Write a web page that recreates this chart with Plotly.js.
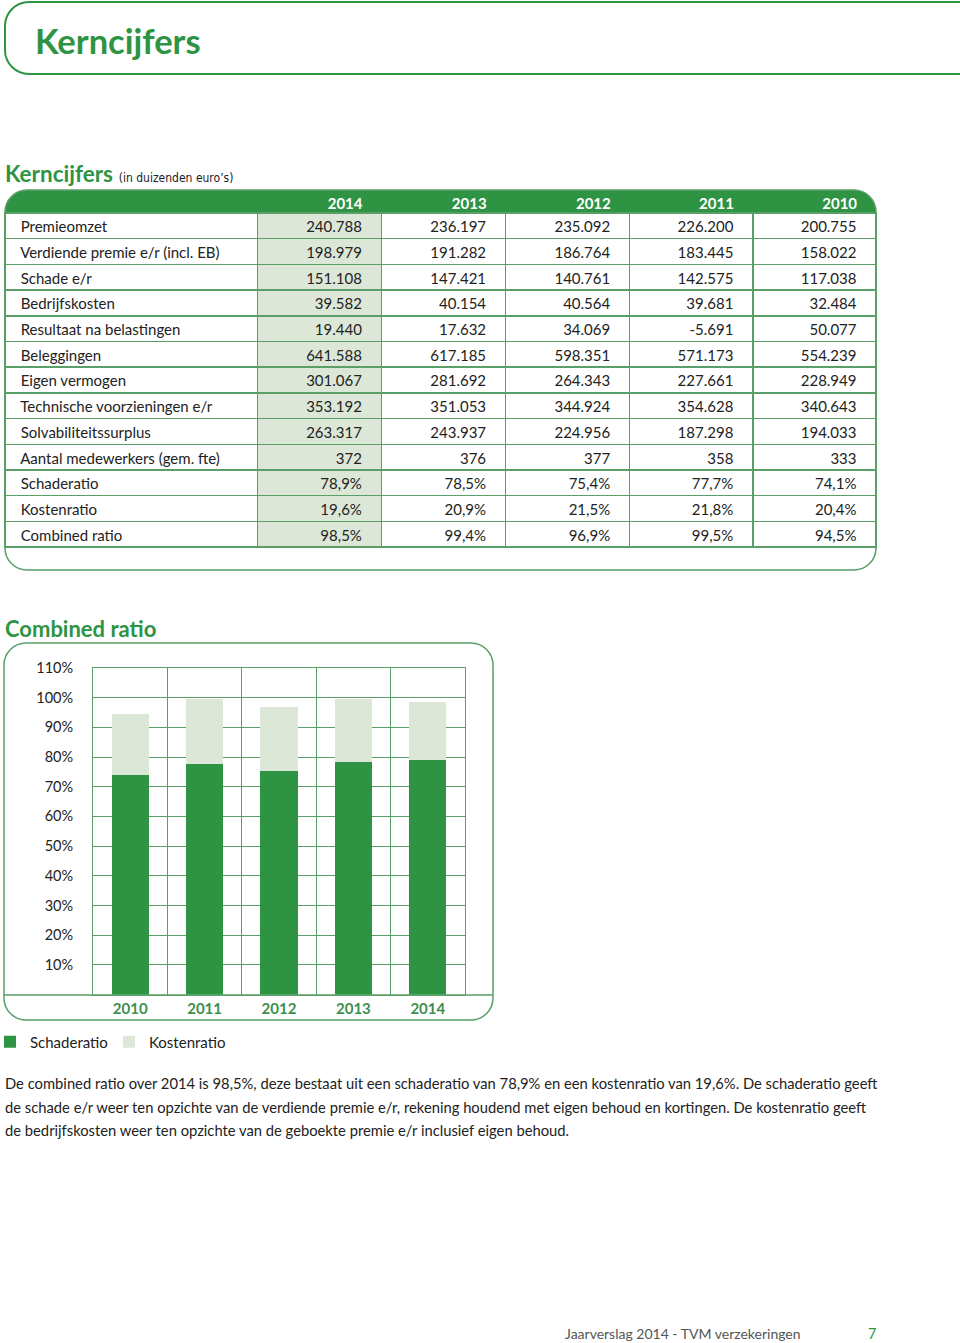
<!DOCTYPE html>
<html>
<head>
<meta charset="utf-8">
<script src="https://cdn.plot.ly/plotly-3.0.1.min.js"></script>
<style>html,body{margin:0;padding:0;background:#fff}#chart{width:960px;height:1343px}</style>
</head>
<body>
<div id="chart"></div>
<script>
// ---------- DATA ----------
var tableYears = ['2014', '2013', '2012', '2011', '2010'];
var rowLabels = ['Premieomzet', 'Verdiende premie e/r (incl. EB)', 'Schade e/r', 'Bedrijfskosten',
  'Resultaat na belastingen', 'Beleggingen', 'Eigen vermogen', 'Technische voorzieningen e/r',
  'Solvabiliteitssurplus', 'Aantal medewerkers (gem. fte)', 'Schaderatio', 'Kostenratio', 'Combined ratio'];
var col2014 = ['240.788', '198.979', '151.108', '39.582', '19.440', '641.588', '301.067', '353.192', '263.317', '372', '78,9%', '19,6%', '98,5%'];
var col2013 = ['236.197', '191.282', '147.421', '40.154', '17.632', '617.185', '281.692', '351.053', '243.937', '376', '78,5%', '20,9%', '99,4%'];
var col2012 = ['235.092', '186.764', '140.761', '40.564', '34.069', '598.351', '264.343', '344.924', '224.956', '377', '75,4%', '21,5%', '96,9%'];
var col2011 = ['226.200', '183.445', '142.575', '39.681', '-5.691', '571.173', '227.661', '354.628', '187.298', '358', '77,7%', '21,8%', '99,5%'];
var col2010 = ['200.755', '158.022', '117.038', '32.484', '50.077', '554.239', '228.949', '340.643', '194.033', '333', '74,1%', '20,4%', '94,5%'];

var chartYears = ['2010', '2011', '2012', '2013', '2014'];
var schaderatio = [74.1, 77.7, 75.4, 78.5, 78.9];
var kostenratio = [20.4, 21.8, 21.5, 20.9, 19.6];
var yTickVals = [10, 20, 30, 40, 50, 60, 70, 80, 90, 100, 110];
var yTickText = ['10%', '20%', '30%', '40%', '50%', '60%', '70%', '80%', '90%', '100%', '110%'];

var paragraphLines = [
  'De combined ratio over 2014 is 98,5%, deze bestaat uit een schaderatio van 78,9% en een kostenratio van 19,6%. De schaderatio geeft',
  'de schade e/r weer ten opzichte van de verdiende premie e/r, rekening houdend met eigen behoud en kortingen. De kostenratio geeft',
  'de bedrijfskosten weer ten opzichte van de geboekte premie e/r inclusief eigen behoud.'
];

// ---------- STYLE ----------
var W = 960, H = 1343;
var GREEN = '#2e9444', LIGHT = '#dce7d8', LINE = '#5a9e68', TXT = '#222222';
var FONT = 'Lato, "Open Sans", sans-serif';
function px(x) { return x / W; }
function py(y) { return 1 - y / H; }
function P(x, y) { return px(x).toFixed(5) + ',' + py(y).toFixed(5); }
var K = 0.5523;
function roundRect(x0, y0, x1, y1, r) {
  var k = K * r;
  return 'M' + P(x0 + r, y0) + ' L' + P(x1 - r, y0) +
    ' C' + P(x1 - r + k, y0) + ' ' + P(x1, y0 + r - k) + ' ' + P(x1, y0 + r) +
    ' L' + P(x1, y1 - r) +
    ' C' + P(x1, y1 - r + k) + ' ' + P(x1 - r + k, y1) + ' ' + P(x1 - r, y1) +
    ' L' + P(x0 + r, y1) +
    ' C' + P(x0 + r - k, y1) + ' ' + P(x0, y1 - r + k) + ' ' + P(x0, y1 - r) +
    ' L' + P(x0, y0 + r) +
    ' C' + P(x0, y0 + r - k) + ' ' + P(x0 + r - k, y0) + ' ' + P(x0 + r, y0) + ' Z';
}
function roundTop(x0, y0, x1, y1, r) {
  var k = K * r;
  return 'M' + P(x0, y1) + ' L' + P(x0, y0 + r) +
    ' C' + P(x0, y0 + r - k) + ' ' + P(x0 + r - k, y0) + ' ' + P(x0 + r, y0) +
    ' L' + P(x1 - r, y0) +
    ' C' + P(x1 - r + k, y0) + ' ' + P(x1, y0 + r - k) + ' ' + P(x1, y0 + r) +
    ' L' + P(x1, y1) + ' Z';
}
function headerBox(x0, y0, y1, r) {
  var k = K * r;
  return 'M' + P(975, y0) + ' L' + P(x0 + r, y0) +
    ' C' + P(x0 + r - k, y0) + ' ' + P(x0, y0 + r - k) + ' ' + P(x0, y0 + r) +
    ' L' + P(x0, y1 - r) +
    ' C' + P(x0, y1 - r + k) + ' ' + P(x0 + r - k, y1) + ' ' + P(x0 + r, y1) +
    ' L' + P(975, y1);
}

// ---------- TABLE ----------
var padL = '\u00a0\u00a0';
var padR = '\u00a0\u00a0\u00a0';
function padRight(arr) { return arr.map(function (v) { return v + padR; }); }
var tableTrace = {
  type: 'table',
  domain: { x: [px(5), px(876)], y: [py(560), py(190)] },
  columnwidth: [252, 124, 124, 124, 123, 123],
  header: {
    values: [padL].concat(tableYears.map(function (y) { return y + padR; })),
    align: ['left', 'right', 'right', 'right', 'right', 'right'],
    fill: { color: 'rgba(0,0,0,0)' },
    line: { color: 'rgba(0,0,0,0)', width: 1 },
    font: { family: FONT, size: 15, color: '#ffffff', weight: 'bold' },
    height: 23
  },
  cells: {
    values: [rowLabels.map(function (s) { return padL + s; }), padRight(col2014), padRight(col2013),
      padRight(col2012), padRight(col2011), padRight(col2010)],
    align: ['left', 'right', 'right', 'right', 'right', 'right'],
    fill: { color: ['#ffffff', LIGHT, '#ffffff', '#ffffff', '#ffffff', '#ffffff'] },
    line: { color: LINE, width: 1.5 },
    font: { family: FONT, size: 15, color: TXT },
    height: 25.7
  }
};

// ---------- BAR CHART ----------
var barSchade = {
  type: 'bar', name: 'Schaderatio', x: chartYears, y: schaderatio,
  marker: { color: GREEN }, width: 0.5, hoverinfo: 'skip'
};
var barKosten = {
  type: 'bar', name: 'Kostenratio', x: chartYears, y: kostenratio,
  marker: { color: LIGHT }, width: 0.5, hoverinfo: 'skip'
};

var annotations = [
  { text: '<b>Kerncijfers</b>', x: px(34), y: py(40), xanchor: 'left', yanchor: 'middle',
    font: { family: FONT, size: 34.5, color: GREEN } },
  { text: '<b>Kerncijfers</b> <span style="font-size:12px;color:#222;font-family:\'DejaVu Sans Condensed\',\'DejaVu Sans\',sans-serif">(in duizenden euro’s)</span>',
    x: px(4), y: py(174), xanchor: 'left', yanchor: 'middle',
    font: { family: FONT, size: 22.5, color: GREEN } },
  { text: '<b>Combined ratio</b>', x: px(4), y: py(628), xanchor: 'left', yanchor: 'middle',
    font: { family: FONT, size: 22, color: GREEN } },
  { text: 'Jaarverslag 2014 - TVM verzekeringen', x: px(564), y: py(1333), xanchor: 'left', yanchor: 'middle',
    font: { family: FONT, size: 14, color: '#555555' } },
  { text: '7', x: px(872), y: py(1333), xanchor: 'center', yanchor: 'middle',
    font: { family: FONT, size: 14.5, color: GREEN } }
];
paragraphLines.forEach(function (line, i) {
  annotations.push({ text: line, x: px(4), y: py(1083 + i * 23.5), xanchor: 'left', yanchor: 'middle',
    font: { family: FONT, size: 14.75, color: TXT } });
});
annotations.forEach(function (a) { a.xref = 'paper'; a.yref = 'paper'; a.showarrow = false; a.borderpad = 0; });

var shapes = [
  { type: 'path', path: headerBox(5, 2, 74, 24), line: { color: GREEN, width: 2 }, fillcolor: 'rgba(0,0,0,0)', layer: 'below' },
  { type: 'path', path: roundTop(5, 190, 876, 213, 22), line: { width: 0 }, fillcolor: GREEN, layer: 'below' },
  { type: 'path', path: roundRect(5, 190, 876, 570, 22), line: { color: LINE, width: 1.5 }, fillcolor: 'rgba(0,0,0,0)', layer: 'below' },
  { type: 'path', path: roundRect(4, 643, 493, 1020, 22), line: { color: LINE, width: 1.5 }, fillcolor: 'rgba(0,0,0,0)', layer: 'below' },
  { type: 'line', x0: px(4), x1: px(493), y0: py(995), y1: py(995), line: { color: LINE, width: 1.5 }, layer: 'below' }
];
shapes.forEach(function (s) { s.xref = 'paper'; s.yref = 'paper'; });

var layout = {
  width: W, height: H,
  margin: { l: 0, r: 0, t: 0, b: 0, pad: 0, autoexpand: false },
  paper_bgcolor: '#ffffff', plot_bgcolor: 'rgba(0,0,0,0)',
  font: { family: FONT, color: TXT },
  barmode: 'stack',
  showlegend: true,
  legend: {
    orientation: 'h', x: px(-10), y: py(1042), xanchor: 'left', yanchor: 'middle',
    font: { family: FONT, size: 15, color: TXT }, traceorder: 'normal',
    entrywidth: 74, entrywidthmode: 'pixels', itemclick: false, itemdoubleclick: false, bgcolor: 'rgba(0,0,0,0)'
  },
  xaxis: {
    domain: [px(93), px(465)], type: 'category', range: [-0.5, 4.5],
    tickson: 'boundaries', showgrid: true, gridcolor: LINE, gridwidth: 1,
    showline: true, mirror: true, linecolor: LINE, linewidth: 1,
    ticks: '', tickfont: { family: FONT, size: 15, color: '#3c8f4f', weight: 'bold' },
    fixedrange: true
  },
  yaxis: {
    domain: [py(994.5), py(668)], range: [0, 110],
    tickvals: yTickVals, ticktext: yTickText,
    showgrid: true, gridcolor: LINE, gridwidth: 1, zeroline: false,
    showline: true, mirror: true, linecolor: LINE, linewidth: 1,
    ticks: '', ticklabelstandoff: 16,
    tickfont: { family: FONT, size: 14.5, color: TXT },
    fixedrange: true
  },
  annotations: annotations,
  shapes: shapes
};

Plotly.newPlot('chart', [barSchade, barKosten, tableTrace], layout, { staticPlot: true, displayModeBar: false });
</script>
</body>
</html>
